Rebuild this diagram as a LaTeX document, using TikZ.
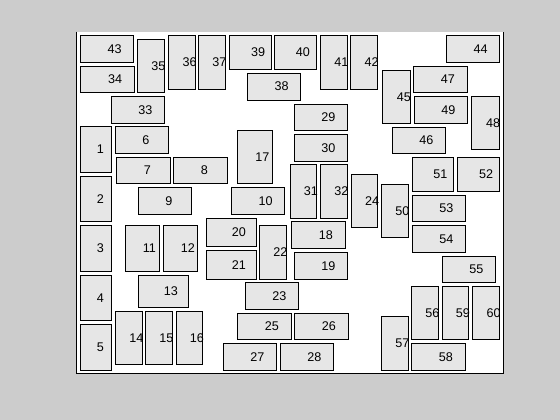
\documentclass[tikz,border=0pt]{standalone}
\usepackage{fontspec}
\setmainfont{Liberation Sans}
\usepackage{xcolor}
\usepackage{tikz}
\definecolor{figgrey}{RGB}{204,204,204}
\definecolor{fusefill}{RGB}{230,230,230}
\tikzset{
  fuse/.style  = {rectangle, draw=black, line width=0.9pt, fill=fusefill,
                  inner sep=0pt, outer sep=0pt},
  num/.style   = {anchor=west, inner sep=0pt, text=black,
                  font=\fontsize{12.6}{12.6}\selectfont},
  axline/.style = {draw=black, line width=1pt},
}
% #1 label, (#2,#3) top left, (#4,#5) bottom right, in pixels
\newcommand{\fuse}[5]{%
  \node[fuse, minimum width={(#4-#2)*1pt}, minimum height={(#5-#3)*1pt}]
    (f#1) at ({(#2+#4)/2},{(#3+#5)/2}) {};
  \node[num] (n#1) at ([xshift=0.4pt]f#1.center) {#1};
}

\begin{document}
\begin{tikzpicture}[x=1pt, y=-1pt]

% ---------- figure and axes ----------
\fill[figgrey] (0,0) rectangle (560,420);
\useasboundingbox (0,0) rectangle (560,420);
\coordinate (tl) at (76.5,31.7);
\coordinate (bl) at (76.5,373.8);
\coordinate (br) at (503.2,373.8);
\coordinate (tr) at (503.2,31.7);
\fill[white] (tl) rectangle (br);
\draw[axline] (tl) -- (bl) -- (br) -- (tr);

% ---------- left column ----------
\fuse{1}{80.7}{126.3}{111.7}{172}
\fuse{2}{80.7}{176.7}{111.7}{221.3}
\fuse{3}{80.7}{225.3}{111.7}{271.3}
\fuse{4}{80.7}{275.3}{111.7}{320.3}
\fuse{5}{80.7}{324.3}{111.7}{370.3}
\fuse{34}{80.7}{66.7}{134.3}{92.3}
\fuse{43}{80.7}{35.7}{133.3}{62.3}

% ---------- second block ----------
\fuse{6}{115.3}{126.3}{168.3}{153.3}
\fuse{7}{116.3}{157.3}{170.3}{183.3}
\fuse{8}{173.3}{157.3}{227.3}{183.3}
\fuse{9}{138.3}{187.3}{191.3}{214.3}
\fuse{11}{125.3}{225.3}{159.3}{271.3}
\fuse{12}{163.3}{225.3}{197.3}{271.3}
\fuse{13}{138.3}{275.3}{188.3}{307.3}
\fuse{14}{115.3}{311.3}{142.3}{364.3}
\fuse{15}{145.3}{311.3}{172.3}{364.3}
\fuse{16}{176.3}{311.3}{202.3}{364.3}
\fuse{33}{111.3}{96.3}{164.3}{123.3}
\fuse{35}{137.3}{39.3}{164.3}{92.3}
\fuse{36}{168.3}{35.7}{195.7}{89}
\fuse{37}{198.3}{35.7}{225.3}{89}

% ---------- middle block ----------
\fuse{10}{231.7}{187.3}{284.3}{214.3}
\fuse{17}{237.3}{130.3}{272.3}{183.3}
\fuse{20}{206.3}{218.3}{256.3}{246.3}
\fuse{21}{206.3}{250.3}{256.3}{279.3}
\fuse{22}{259.3}{225.3}{286}{279.3}
\fuse{23}{245.3}{282.3}{298.3}{309.3}
\fuse{25}{237.3}{313.3}{291.3}{339.3}
\fuse{27}{223.3}{343.3}{276.3}{370.3}
\fuse{38}{247.3}{73.3}{300.7}{100}
\fuse{39}{229.3}{35.7}{271.7}{69}
\fuse{40}{274}{35.7}{316.7}{69}

% ---------- right-middle block ----------
\fuse{18}{291.3}{221.3}{345.3}{248.3}
\fuse{19}{294.3}{252.3}{347.3}{279.3}
\fuse{24}{351.3}{174.3}{377.7}{227.3}
\fuse{26}{294.3}{313.3}{348.3}{339.3}
\fuse{28}{280.3}{343.3}{333.3}{370.3}
\fuse{29}{294.3}{104.3}{347.3}{130.3}
\fuse{30}{294.3}{134.3}{347.3}{161.3}
\fuse{31}{290.3}{164.3}{316.3}{218.3}
\fuse{32}{320.3}{164.3}{347.3}{218.3}
\fuse{41}{320.3}{35.7}{347.3}{89}
\fuse{42}{350.3}{35.7}{377.7}{89}

% ---------- right block ----------
\fuse{44}{446.3}{35.7}{499.7}{62.3}
\fuse{45}{382.3}{70.3}{410.3}{123.3}
\fuse{46}{392.3}{127.3}{445.3}{153.3}
\fuse{47}{413.3}{66.3}{467.3}{92.3}
\fuse{48}{471.3}{96.3}{499.7}{149.3}
\fuse{49}{414.3}{96.3}{467.3}{123.3}
\fuse{50}{381.3}{184.3}{408.3}{237.3}
\fuse{51}{412.3}{157.3}{453.3}{191.3}
\fuse{52}{457.3}{157.3}{499.7}{191.3}
\fuse{53}{412.3}{195.3}{465.3}{221.3}
\fuse{54}{412.3}{225.3}{465.3}{252.3}
\fuse{55}{442.3}{256.3}{495.3}{282.3}
\fuse{56}{411.3}{286.3}{438.3}{339.3}
\fuse{57}{381.3}{316.3}{408.3}{370.3}
\fuse{58}{411.3}{343.3}{465.3}{370.3}
\fuse{59}{442.3}{286.3}{468.3}{339.3}
\fuse{60}{472.3}{286.3}{499.7}{339.3}

\end{tikzpicture}
\end{document}
